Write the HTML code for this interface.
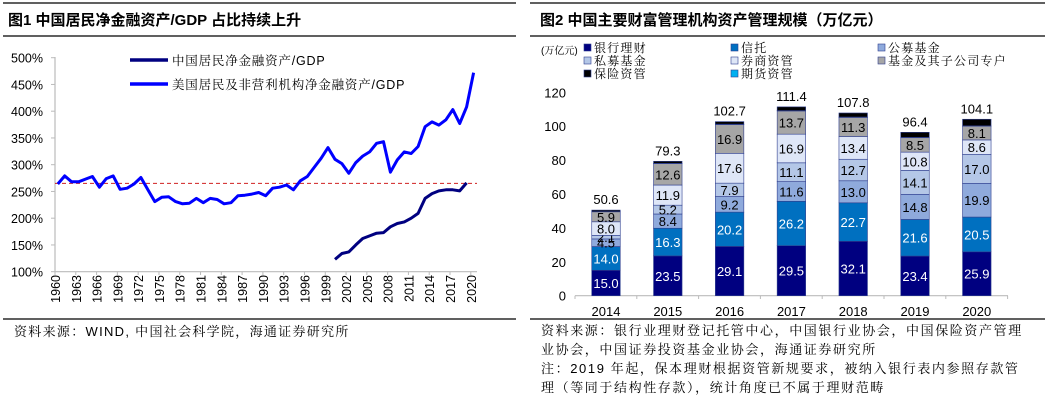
<!DOCTYPE html>
<html><head><meta charset="utf-8"><style>
html,body{margin:0;padding:0;background:#fff;}
svg{display:block;font-family:"Liberation Sans","Noto Sans CJK SC",sans-serif;}
.cn{font-family:"Liberation Sans","Noto Serif CJK SC",serif;}
</style></head><body>
<svg id="s" width="1048" height="411" viewBox="0 0 1048 411" xmlns="http://www.w3.org/2000/svg">
<g stroke="#000" stroke-width="1.3">
<line x1="3" y1="3" x2="516" y2="3"/><line x1="3" y1="36" x2="516" y2="36"/><line x1="3" y1="319" x2="516" y2="319"/>
<line x1="530" y1="3" x2="1045" y2="3"/><line x1="530" y1="36" x2="1045" y2="36"/><line x1="530" y1="319" x2="1045" y2="319"/>
</g>
<text x="8" y="25" font-size="15" font-weight="bold">图1  中国居民净金融资产/GDP 占比持续上升</text>
<text x="540" y="25" font-size="15" font-weight="bold">图2  中国主要财富管理机构资产管理规模（万亿元）</text>
<text class="cn" x="14" y="336" font-size="13" letter-spacing="1.3">资料来源：WIND, 中国社会科学院，海通证券研究所</text>
<g class="cn" font-size="13" letter-spacing="1.6">
<text x="541" y="335">资料来源：银行业理财登记托管中心，中国银行业协会，中国保险资产管理</text>
<text x="541" y="354">业协会，中国证券投资基金业协会，海通证券研究所</text>
<text x="541" y="373">注：2019 年起，保本理财根据资管新规要求，被纳入银行表内参照存款管</text>
<text x="541" y="392">理（等同于结构性存款），统计角度已不属于理财范畴</text>
</g>
<g id="left"></g>
<g id="right"></g>
</svg>
<script>
const usYears=[];for(let y=1960;y<=2020;y++)usYears.push(y);
const usValues=[264,279,268,268,273,278,258,274,279,254,256,264,276,253,231,239,240,231,227,228,237,229,237,235,227,229,242,243,245,248,242,256,258,262,253,270,278,295,312,332,310,302,284,304,316,324,340,343,286,309,324,321,334,371,380,374,384,403,377,408,472];
const cnYears=[];for(let y=2000;y<=2019;y++)cnYears.push(y);
const cnValues=[123,134,137,150,162,167,172,173,184,190,193,200,209,237,246,251,253,253,251,266];
const refLine=265;
const yTicksL=[100,150,200,250,300,350,400,450,500];
const xTicksL=[1960,1963,1966,1969,1972,1975,1978,1981,1984,1987,1990,1993,1996,1999,2002,2005,2008,2011,2014,2017,2020];

const NS="http://www.w3.org/2000/svg";
function mk(p,t,a){const e=document.createElementNS(NS,t);for(const k in a)e.setAttribute(k,a[k]);p.appendChild(e);return e;}
const L=document.getElementById('left');
const xL=y=>55+(y-1960)*6.93;
const yL=v=>271.7-(v-100)*0.535;
let ax=mk(L,'path',{d:`M55,57 V271.7 H477`,stroke:'#bbb','stroke-width':1.2,fill:'none'});


yTicksL.forEach(v=>{
 const t=mk(L,'text',{x:43,y:yL(v)+5,'text-anchor':'end','font-size':12.5});t.textContent=v+'%';
 
 
 mk(L,'line',{x1:51,x2:55,y1:yL(v),y2:yL(v),stroke:'#bbb'});
});
xTicksL.forEach(y=>{
 mk(L,'line',{x1:xL(y),x2:xL(y),y1:271.7,y2:275,stroke:'#bbb'});
 const t=mk(L,'text',{x:0,y:0,'font-size':12.5,'text-anchor':'end',transform:`translate(${xL(y)+5},${275}) rotate(-90)`});t.textContent=y;
 
 
});
let rl=mk(L,'line',{x1:xL(1960),x2:477,y1:yL(refLine),y2:yL(refLine),stroke:'#d02020','stroke-width':1,'stroke-dasharray':'4,3'});


function line(xs,vs,col,name){
 const d=xs.map((y,i)=>(i?'L':'M')+xL(y+0.4).toFixed(1)+','+yL(vs[i]).toFixed(1)).join(' ');
 const p=mk(L,'path',{d,stroke:col,'stroke-width':3,fill:'none','stroke-linejoin':'round'});
 
 
}
line(usYears,usValues,'#0000ff','us-series-line');
line(cnYears,cnValues,'#000080','china-series-line');
[['#000080','中国居民净金融资产/GDP',60],['#0000ff','美国居民及非营利机构净金融资产/GDP',84]].forEach(([c,t,y])=>{
 const g=mk(L,'g',{});
 
 
 mk(g,'line',{x1:130,x2:168,y1:y,y2:y,stroke:c,'stroke-width':3.5});
 const tx=mk(g,'text',{x:172,y:y+5,'font-size':12.5,'class':'cn','letter-spacing':0.8});tx.textContent=t;
});

// right chart
const years=['2014','2015','2016','2017','2018','2019','2020'];
const totals=[50.6,79.3,102.7,111.4,107.8,96.4,104.1];
const bankWm=[15.0,23.5,29.1,29.5,32.1,23.4,25.9];
const trust=[14.0,16.3,20.2,26.2,22.7,21.6,20.5];
const publicFund=[4.5,8.4,9.2,11.6,13.0,14.8,19.9];
const privateFund=[2.1,5.2,7.9,11.1,12.7,14.1,17.0];
const brokerAm=[8.0,11.9,17.6,16.9,13.4,10.8,8.6];
const fundSub=[5.9,12.6,16.9,13.7,11.3,8.5,8.1];
const futuresAm=[0.1,0.2,0.3,0.2,0.2,0.2,0.2];
const insuranceAm=[0.9,1.2,1.5,2.2,2.4,3.0,3.9];
const yTicksR=[0,20,40,60,80,100,120];
const series=[
 ['bank-wm',bankWm,'#000080','#fff',true],
 ['trust',trust,'#0070c0','#fff',true],
 ['public-fund',publicFund,'#8faadc','#000',true],
 ['private-fund',privateFund,'#b4c7e7','#000',true],
 ['broker-am',brokerAm,'#dee6f7','#000',true],
 ['fund-subsidiary',fundSub,'#a6a6a6','#000',true],
 ['futures-am',futuresAm,'#00b0f0','#000',false],
 ['insurance-am',insuranceAm,'#000','#000',false]];
const R=document.getElementById('right');
const yR=v=>295.7-v*1.695;
const xR=i=>606+i*61.8;
const bw=28.5;
let ra=mk(R,'line',{x1:575,x2:1008,y1:295.7,y2:295.7,stroke:'#bbb','stroke-width':1.2});


for(let i=0;i<=years.length;i++)mk(R,'line',{x1:575+i*61.8,x2:575+i*61.8,y1:295.7,y2:299,stroke:'#bbb'});
yTicksR.forEach(v=>{
 const t=mk(R,'text',{x:566,y:yR(v)+5,'text-anchor':'end','font-size':13});t.textContent=v;
 
 
});
years.forEach((yr,i)=>{
 let base=0;
 series.forEach(([n,arr,col,tc,lab])=>{
  const v=arr[i];
  const r=mk(R,'rect',{x:xR(i)-bw/2,y:yR(base+v),width:bw,height:v*1.695,fill:col,stroke:'#2f3f8f','stroke-width':0.6});
  
  
  if(lab){
   const t=mk(R,'text',{x:xR(i),y:yR(base+v/2)+5,'text-anchor':'middle','font-size':13,fill:tc});t.textContent=v.toFixed(1);
   
   
  }
  base+=v;
 });
 const tt=mk(R,'text',{x:xR(i),y:yR(totals[i])-6,'text-anchor':'middle','font-size':13});tt.textContent=totals[i].toFixed(1);
 
 
 const xl=mk(R,'text',{x:xR(i),y:316,'text-anchor':'middle','font-size':13});xl.textContent=yr;
 
 
});
let un=mk(R,'text',{x:541,y:54,'font-size':10,'class':'cn'});un.textContent='(万亿元)';


const leg=[['银行理财','#000080',584,52],['信托','#0070c0',731,52],['公募基金','#8faadc',878,52],
['私募基金','#b4c7e7',584,65],['券商资管','#dee6f7',731,65],['基金及其子公司专户','#a6a6a6',878,65],
['保险资管','#000',584,78],['期货资管','#00b0f0',731,78]];
leg.forEach(([t,c,x,y])=>{
 const g=mk(R,'g',{});
 
 
 mk(g,'rect',{x:x,y:y-8,width:7,height:7,fill:c,stroke:'#2f3f8f','stroke-width':0.6});
 const tx=mk(g,'text',{x:x+10,y:y,'font-size':12,'class':'cn','letter-spacing':1.2});tx.textContent=t;
});
</script>
</body></html>
